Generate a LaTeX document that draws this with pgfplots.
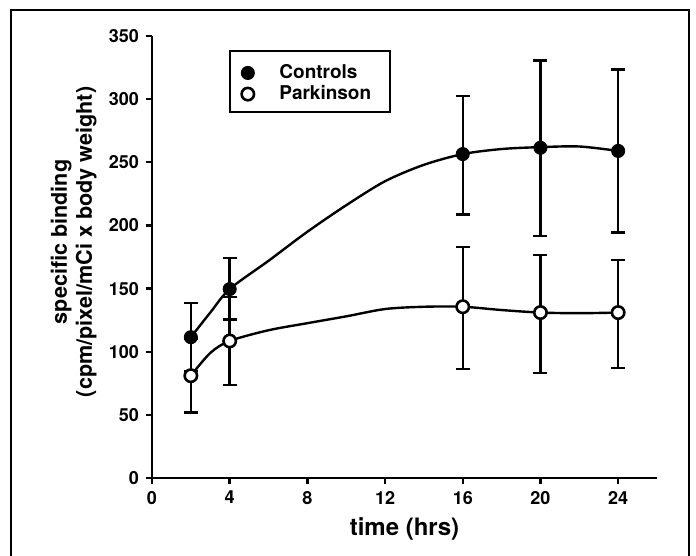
\documentclass[border=0pt]{standalone}
\usepackage{pgfplots}
\pgfplotsset{compat=1.18}
\usepackage{fontspec}
\setmainfont{TeX Gyre Heros}

\begin{document}
\begin{tikzpicture}[x=1pt,y=1pt]
  % page = 696x556 px at 0.5pt per px, axis origin at px (152,478)
  \useasboundingbox (-76,-39) rectangle (272,239);
  \draw[line width=1pt] (-70.5,-41) -- (-70.5,234) -- (268.5,234) -- (268.5,-41);
  \begin{axis}[
      at={(0,0)}, anchor=south west,
      scale only axis, width=252.5pt, height=221pt,
      axis lines=left,
      axis line style={line width=1.2pt, -},
      xmin=0, xmax=26, ymin=0, ymax=350,
      xtick={0,4,...,24}, ytick={0,50,...,350},
      tick style={line width=1.2pt, black},
      tick align=outside, major tick length=3pt,
      ticklabel style={font=\bfseries\fontsize{9}{10}\selectfont},
      /pgf/number format/assume math mode=true,
      xlabel={time (hrs)},
      xlabel style={font=\bfseries\fontsize{12}{14}\selectfont},
      ylabel={specific binding\\(cpm/pixel/mCi x body weight)},
      ylabel style={font=\bfseries\fontsize{10.8}{12.5}\selectfont, align=center,
        at={(rel axis cs:-0.155,0.534)}, anchor=center},
      legend style={at={(0.166,0.9615)}, anchor=north west,
        draw=none, fill=none,
        font=\bfseries\fontsize{9.5}{10.5}\selectfont,
        inner xsep=2.5pt, inner ysep=5pt, row sep=1pt, column sep=12pt,
        nodes={inner sep=0.5pt}},
      legend cell align=left,
    ]
    % legend frame
    \draw[line width=1.2pt] (rel axis cs:0.1545,0.828) rectangle (rel axis cs:0.471,0.966);
    % fitted curves
    \addplot[forget plot, smooth, line width=1.2pt] coordinates {
      (2,111.5)(3,131)(4,149.6)(6,172)(8,195)(10,216)(12,235)(14,248)
      (16,256.5)(18,260.5)(20,262)(22,262.5)(24,259)
    };
    \addplot[forget plot, smooth, line width=1.2pt] coordinates {
      (2,81)(3,99)(4,108.5)(6,117)(8,122.6)(10,128)(12,133.8)(14,135.6)
      (16,135.6)(18,133)(20,131)(22,130.5)(24,131)
    };
    % means with error bars
    \addplot[only marks, mark=*, mark size=3.3pt, mark options={fill=black},
      error bars/.cd, y dir=both, y explicit,
      error bar style={line width=1.2pt},
      error mark options={rotate=90, line width=1.2pt, mark size=3.5pt}]
      coordinates {
      (2,111.5) += (0,27) -= (0,27)
      (4,149.6) += (0,24.5) -= (0,24)
      (16,256.5) += (0,46) -= (0,48)
      (20,261.5) += (0,69) -= (0,70)
      (24,259) += (0,64.5) -= (0,64.5)
    };
    \addlegendentry{Controls}
    \addplot[only marks, mark=*, mark size=3.1pt,
      mark options={fill=white, line width=1.3pt},
      error bars/.cd, y dir=both, y explicit,
      error bar style={line width=1.2pt},
      error mark options={rotate=90, line width=1.2pt, mark size=3.5pt}]
      coordinates {
      (2,81) += (0,29) -= (0,29)
      (4,108.5) += (0,35) -= (0,35)
      (16,135.6) += (0,47.5) -= (0,49.5)
      (20,131) += (0,45.5) -= (0,48)
      (24,131) += (0,41.5) -= (0,44)
    };
    \addlegendentry{Parkinson}
  \end{axis}
\end{tikzpicture}
\end{document}
